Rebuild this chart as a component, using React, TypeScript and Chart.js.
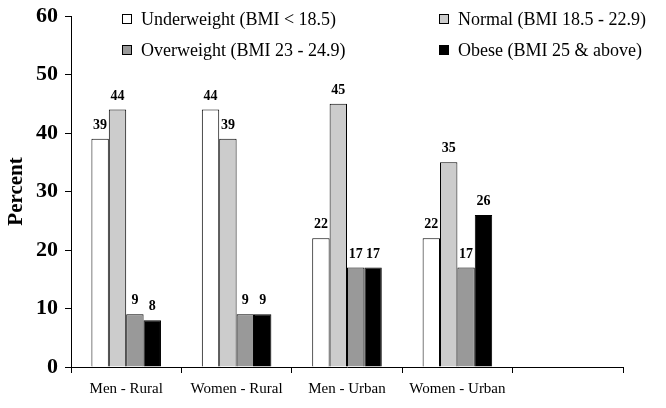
import React, { useEffect, useRef } from "react";
import { Chart, registerables } from "chart.js";

Chart.register(...registerables);

const categories = ["Men - Rural", "Women - Rural", "Men - Urban", "Women - Urban", ""];
const seriesNames = [
  "Underweight (BMI < 18.5)",
  "Normal (BMI 18.5 - 22.9)",
  "Overweight (BMI 23 - 24.9)",
  "Obese (BMI 25 & above)",
];
const underweight = [39, 44, 22, 22, null];
const normal = [44, 39, 45, 35, null];
const overweight = [9, 9, 17, 17, null];
const obese = [8, 9, 17, 26, null];
const seriesColors = ["#ffffff", "#cccccc", "#999999", "#000000"];
const yTicks = [0, 10, 20, 30, 40, 50, 60];

const SERIF = "'Liberation Serif', 'Times New Roman', serif";

const labelPlugin = {
  id: "valueLabels",
  afterDatasetsDraw(chart: any) {
    const ctx = chart.ctx;
    ctx.save();
    ctx.fillStyle = "#000";
    ctx.font = `bold 14px ${SERIF}`;
    ctx.textAlign = "center";
    ctx.textBaseline = "alphabetic";
    chart.data.datasets.forEach((ds: any, di: number) => {
      const meta = chart.getDatasetMeta(di);
      meta.data.forEach((bar: any, i: number) => {
        const v = ds.data[i];
        if (v === null || v === undefined) return;
        ctx.fillText(String(v), bar.x, bar.y - 10);
      });
    });
    ctx.restore();
  },
};

const legendPlugin = {
  id: "customLegend",
  afterDraw(chart: any) {
    const ctx = chart.ctx;
    const cols = [122, 439];
    const rows = [19, 50];
    ctx.save();
    ctx.font = `18px ${SERIF}`;
    ctx.textBaseline = "middle";
    ctx.textAlign = "left";
    chart.data.datasets.forEach((ds: any, i: number) => {
      const x = cols[i % 2];
      const y = rows[Math.floor(i / 2)];
      ctx.fillStyle = ds.backgroundColor;
      ctx.fillRect(x + 0.5, y - 4.5, 9, 9);
      ctx.strokeStyle = "#000";
      ctx.lineWidth = 1;
      ctx.strokeRect(x + 0.5, y - 4.5, 9, 9);
      ctx.fillStyle = "#000";
      ctx.fillText(ds.label, x + 19, y + 1);
    });
    ctx.restore();
  },
};

export default function App() {
  const ref = useRef<HTMLCanvasElement>(null);
  useEffect(() => {
    if (!ref.current) return;
    const seriesData = [underweight, normal, overweight, obese];
    const chart = new Chart(ref.current, {
      type: "bar",
      data: {
        labels: categories,
        datasets: seriesNames.map((name, i) => ({
          label: name,
          data: seriesData[i] as any,
          backgroundColor: seriesColors[i],
          borderColor: "#000",
          borderWidth: 1,
          barPercentage: 1,
          categoryPercentage: 0.63,
        })),
      },
      options: {
        animation: false,
        responsive: false,
        devicePixelRatio: 1,
        layout: { padding: { left: 0, right: 43, top: 16, bottom: 0 } },
        plugins: { legend: { display: false }, tooltip: { enabled: false } },
        scales: {
          x: {
            offset: true,
            grid: {
              display: true,
              drawOnChartArea: false,
              offset: true,
              tickLength: 6,
              color: "#000",
            },
            border: { color: "#000", width: 1 },
            ticks: {
              color: "#000",
              font: { family: SERIF, size: 15 },
              padding: 7,
              maxRotation: 0,
              autoSkip: false,
            },
            afterFit: (s: any) => {
              s.height = 41;
              s.paddingLeft = 0;
              s.paddingRight = 0;
            },
          },
          y: {
            min: 0,
            max: 60,
            afterBuildTicks: (s: any) => {
              s.ticks = yTicks.map((v) => ({ value: v }));
            },
            grid: {
              display: true,
              drawOnChartArea: false,
              tickLength: 6,
              color: "#000",
            },
            border: { color: "#000", width: 1 },
            ticks: {
              color: "#000",
              font: { family: SERIF, size: 22, weight: "bold" },
              padding: 7,
            },
            title: {
              display: true,
              text: "Percent",
              color: "#000",
              font: { family: SERIF, size: 21, weight: "bold" },
              padding: 4,
            },
            afterFit: (s: any) => {
              s.width = 71;
              s.paddingTop = 0;
              s.paddingBottom = 0;
            },
          },
        },
      },
      plugins: [labelPlugin, legendPlugin],
    });
    return () => chart.destroy();
  }, []);
  return (
    <div style={{ position: "fixed", left: 0, top: 0, width: 666, height: 408, background: "#fff" }}>
      <canvas ref={ref} width={666} height={408} />
    </div>
  );
}
